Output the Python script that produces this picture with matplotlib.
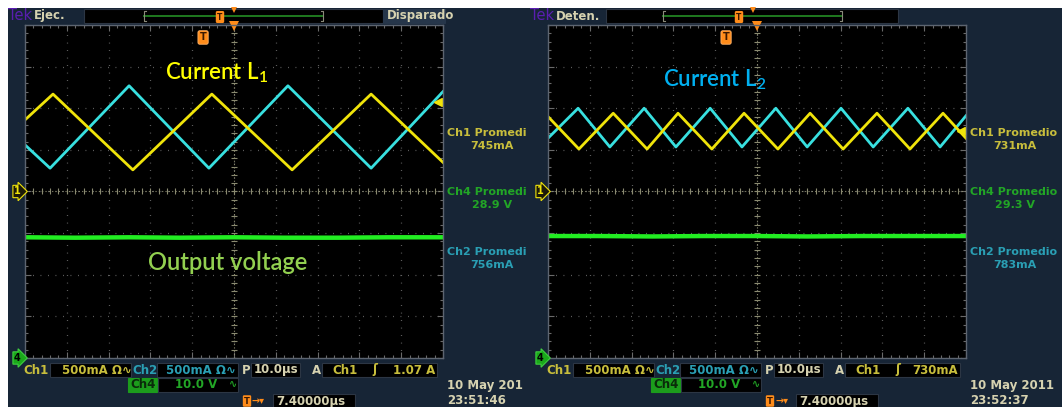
import matplotlib
matplotlib.use("Agg")
import matplotlib.pyplot as plt
import matplotlib.transforms as mtransforms
from matplotlib.patches import Rectangle

W, H = 1064, 407

# scope settings
CUR_PER_DIV = 0.5     # A/div (Ch1, Ch2)
VOLT_PER_DIV = 10.0   # V/div (Ch4)
CH4_GROUND = -4       # div
TRIG_DELAY = 7.4      # µs

# ---- left capture (Ejec.) : time in µs ----
left_ch1_t = [0, 6.7, 25.8, 44.7, 63.9, 82.8, 100]
left_ch1_a = [0.86, 1.17, 0.26, 1.17, 0.26, 1.17, 0.35]
left_ch2_t = [0, 6.0, 24.9, 44.0, 62.9, 82.8, 100]
left_ch2_a = [0.56, 0.28, 1.27, 0.28, 1.27, 0.28, 1.20]
left_ch4_t = [0, 12, 25, 37, 50, 62, 75, 87, 100]
left_ch4_v = [29.0, 28.9, 29.0, 28.9, 29.0, 28.9, 28.9, 29.0, 29.0]
left_trig = 1.07
left_means = ["745mA", "28.9 V", "756mA"]

# ---- right capture (Deten.) ----
right_ch1_t = [0, 7.4, 15.6, 23.7, 31.1, 39.2, 46.9, 55.0, 62.7, 70.6, 78.7, 86.6, 94.5, 100]
right_ch1_a = [0.90, 0.51, 0.94, 0.51, 0.94, 0.51, 0.94, 0.51, 0.94, 0.51, 0.94, 0.51, 0.94, 0.64]
right_ch2_t = [0, 7.2, 14.8, 23.0, 30.6, 38.8, 46.4, 54.5, 62.0, 70.1, 77.8, 86.1, 93.8, 100]
right_ch2_a = [0.64, 1.00, 0.535, 1.00, 0.535, 1.00, 0.535, 1.00, 0.535, 1.00, 0.535, 1.00, 0.535, 0.91]
right_ch4_t = [0, 12, 25, 37, 50, 62, 75, 87, 100]
right_ch4_v = [29.3, 29.3, 29.2, 29.3, 29.3, 29.2, 29.3, 29.3, 29.3]
right_trig = 0.73
right_means = ["731mA", "29.3 V", "783mA"]

# colours
NAVY = "#172536"
YEL = "#f0e40a"
CYAN = "#38e0e0"
GREEN = "#22ee22"
TXT_Y = "#c8be3c"
TXT_G = "#22a626"
TXT_C = "#2a9fb4"
BEIGE = "#d6d2b0"
ORANGE = "#ff8c1a"
GRID = "#6a6a6a"

fig = plt.figure(figsize=(W / 100, H / 100), dpi=100)
fig.patch.set_facecolor("white")

bg = fig.add_axes([0, 0, 1, 1], zorder=0)
bg.set_xlim(0, W)
bg.set_ylim(H, 0)
bg.axis("off")
fg = fig.add_axes([0, 0, 1, 1], zorder=5)
fg.set_xlim(0, W)
fg.set_ylim(H, 0)
fg.axis("off")
fg.patch.set_alpha(0)

bg.add_patch(Rectangle((8, 8), W - 10, H - 8, fc=NAVY, ec="none"))


def box(x0, x1, y0, y1, fc="black", ec="#2c3644"):
    bg.add_patch(Rectangle((x0, y0), x1 - x0, y1 - y0, fc=fc, ec=ec, lw=0.8))


def txt(x, y, s, color, size=8, ha="left", weight="bold"):
    fg.text(x, y, s, color=color, fontsize=size, ha=ha, va="center",
            fontweight=weight, family="DejaVu Sans")


def scope(dx, ch1_t, ch1_a, ch2_t, ch2_a, ch4_t, ch4_v, trig):
    ax = fig.add_axes([(25 + dx) / W, 1 - 358 / H, 418 / W, 333 / H], zorder=2)
    ax.set_facecolor("black")
    ax.set_xlim(0, 100)
    ax.set_ylim(-4, 4)
    ax.set_xticks(range(0, 101, 10))
    ax.set_xticks(range(0, 101, 2), minor=True)
    ax.set_yticks(range(-4, 5))
    ax.set_yticks([i / 5 for i in range(-20, 21)], minor=True)
    ax.tick_params(which="both", direction="in", top=True, right=True,
                   color=GRID, labelbottom=False, labelleft=False)
    ax.tick_params(which="major", length=4, width=0.8)
    ax.tick_params(which="minor", length=2.5, width=0.8)
    for s in ax.spines.values():
        s.set_color("#5c6470")
        s.set_linewidth(1.0)
    ax.grid(which="major", color=GRID, linestyle=(0, (0.7, 5.3)), linewidth=0.9)
    # centre cross with minor ticks
    ax.axhline(0, color="#8a8a70", lw=0.8, ls=(0, (1, 2)))
    ax.axvline(50, color="#8a8a70", lw=0.8, ls=(0, (1, 2)))
    ax.plot(range(0, 101, 2), [0] * 51, ls="none", marker="|", ms=4, color="#8a8a70", mew=0.8)
    ax.plot([50] * 41, [i / 5 for i in range(-20, 21)], ls="none", marker="_", ms=4,
            color="#8a8a70", mew=0.8)

    # traces
    ax.plot(ch4_t, [v / VOLT_PER_DIV + CH4_GROUND for v in ch4_v], color=GREEN, lw=3.2,
            solid_capstyle="butt")
    ax.plot(ch2_t, [a / CUR_PER_DIV for a in ch2_a], color=CYAN, lw=2.0)
    ax.plot(ch1_t, [a / CUR_PER_DIV for a in ch1_a], color=YEL, lw=2.0)

    # trigger level, trigger position, centre mark
    ax.plot([98.8], [trig / CUR_PER_DIV], marker="<", ms=6, color=YEL, clip_on=False)
    ax.plot([50], [3.97], marker="v", ms=7, color=ORANGE, clip_on=False, mew=0)
    ax.text(50 - TRIG_DELAY, 3.7, "T", ha="center", va="center", fontsize=7,
            fontweight="bold", color="#3a1800",
            bbox=dict(boxstyle="round,pad=0.18", fc=ORANGE, ec="#ffb36a", lw=0.6))

    # ground markers
    tr = mtransforms.blended_transform_factory(ax.transAxes, ax.transData)
    ax.text(-0.01, 0, "1", transform=tr, ha="right", va="center", fontsize=7,
            fontweight="bold", color=YEL, clip_on=False,
            bbox=dict(boxstyle="rarrow,pad=0.12", fc="#1c1a08", ec=YEL, lw=0.8))
    ax.text(-0.01, CH4_GROUND, "4", transform=tr, ha="right", va="center", fontsize=7,
            fontweight="bold", color="black", clip_on=False,
            bbox=dict(boxstyle="rarrow,pad=0.12", fc="#1aa81a", ec="#40d040", lw=0.8))
    return ax


def top_bar(dx, state, bar_end, extra):
    txt(8 + dx, 16, "Tek", "#5a1eb0", size=10.5, weight="normal")
    txt(34 + dx, 16, state, BEIGE, size=8.5)
    box(84 + dx if dx == 0 else 606, bar_end, 9, 23)
    c = 234 + dx if dx == 0 else 753
    bg.plot([c - 90, c + 89], [16, 16], color="#1f7a1f", lw=1.4)
    bg.plot([c - 88, c - 90, c - 90, c - 88], [11, 11, 21, 21], color="#8a8a7a", lw=0.8)
    bg.plot([c + 87, c + 89, c + 89, c + 87], [11, 11, 21, 21], color="#8a8a7a", lw=0.8)
    fg.text(c - 14, 17, "T", ha="center", va="center", fontsize=5.5, fontweight="bold",
            color="#3a1800", bbox=dict(boxstyle="round,pad=0.2", fc=ORANGE, ec="none"))
    fg.plot([c], [10], marker="v", ms=5, color=ORANGE, mew=0)
    if extra:
        box(bar_end, 445, 9, 23, fc="#26364a", ec="#26364a")
        txt(bar_end + 4, 16, extra, BEIGE, size=8.5)


def side_values(dx, means, full):
    names = ["Ch1 Promedio", "Ch4 Promedio", "Ch2 Promedio"]
    cols = [TXT_Y, TXT_G, TXT_C]
    ys = [133, 192, 252]
    for name, val, col, y in zip(names, means, cols, ys):
        txt(447 + dx, y, name if full else name[:-1], col, size=8)
        txt(492 + dx, y + 13, val, col, size=8, ha="center")


def bottom(dx, trig_txt, date1, date2):
    txt(23 + dx, 370, "Ch1", TXT_Y, size=8.5)
    box(50 + dx, 131 + dx, 363, 377)
    txt(62 + dx, 370, "500mA Ω∿", TXT_Y, size=8.5)
    txt(132 + dx, 370, "Ch2", TXT_C, size=8.5)
    box(157 + dx, 238 + dx, 363, 377)
    txt(166 + dx, 370, "500mA Ω∿", TXT_C, size=8.5)
    txt(242 + dx, 370, "P", BEIGE, size=8.5)
    box(251 + dx, 300 + dx, 363, 377)
    txt(254 + dx, 370, "10.0µs", BEIGE, size=8.5)
    txt(312 + dx, 370, "A", BEIGE, size=8.5)
    box(322 + dx, 437 + dx, 363, 377)
    txt(332 + dx, 370, "Ch1", TXT_Y, size=8.5)
    txt(372 + dx, 370, "ʃ", TXT_Y, size=8.5)
    txt(435 + dx, 370, trig_txt, TXT_Y, size=8.5, ha="right")
    # row 2
    box(128 + dx, 157 + dx, 378, 392, fc="#1c9c1c", ec="#1c9c1c")
    txt(130 + dx, 385, "Ch4", "#0a2a0a", size=8.5)
    box(158 + dx, 238 + dx, 378, 392)
    txt(175 + dx, 385, "10.0 V", TXT_G, size=8.5)
    txt(229 + dx, 384, "∿", TXT_G, size=7)
    # row 3
    fg.text(247 + dx, 401, "T", ha="center", va="center", fontsize=6, fontweight="bold",
            color="#3a1800", bbox=dict(boxstyle="round,pad=0.15", fc=ORANGE, ec="none"))
    txt(252 + dx, 401, "→▾", ORANGE, size=7)
    box(273 + dx, 355 + dx, 394, 407)
    txt(276 + dx, 401, "7.40000µs", BEIGE, size=8.5)
    txt(447 + dx, 386, date1, BEIGE, size=8.5)
    txt(447 + dx, 401, date2, BEIGE, size=8.5)


# left capture
top_bar(0, "Ejec.", 383, "Disparado")
scope(0, left_ch1_t, left_ch1_a, left_ch2_t, left_ch2_a, left_ch4_t, left_ch4_v, left_trig)
side_values(0, left_means, False)
bottom(0, "1.07 A", "10 May 201", "23:51:46")

# right capture
top_bar(522, "Deten.", 898, None)
scope(523, right_ch1_t, right_ch1_a, right_ch2_t, right_ch2_a, right_ch4_t, right_ch4_v, right_trig)
side_values(523, right_means, True)
bottom(523, "730mA", "10 May 2011", "23:52:37")

# annotations
plt.rcParams["mathtext.fontset"] = "custom"
plt.rcParams["mathtext.rm"] = "Lato"
plt.rcParams["mathtext.bf"] = "Lato:bold"
fg.text(165, 73, r"Current L$_\mathregular{1}$", color="#ffff00", fontsize=16,
        family="Lato", fontweight="semibold", va="center")
fg.text(663, 80, r"Current L$_\mathregular{2}$", color="#00b0f0", fontsize=16,
        family="Lato", fontweight="semibold", va="center")
fg.text(148, 263, "Output voltage", color="#92d050", fontsize=17, family="Lato",
        fontweight="semibold", va="center")

fig.savefig("out.png", dpi=100, facecolor=fig.get_facecolor())
